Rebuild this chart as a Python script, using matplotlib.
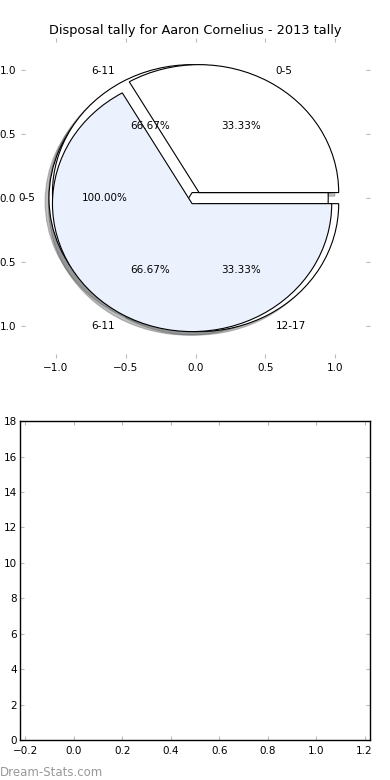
import matplotlib

matplotlib.use("Agg")
import matplotlib.pyplot as plt

# tally bins for each pie drawn onto the same axes (drawing order kept)
labels_a = ["0-5"]
values_a = [1]
labels_b = ["0-5", "6-11"]
values_b = [1, 2]
labels_c = ["6-11", "12-17"]
values_c = [2, 1]

colors_a = ["white"]
colors_b = ["white", "#EBF1FD"]
colors_c = ["white", "white"]

y_ticks = list(range(0, 19, 2))
x_ticks = [-0.2, 0.0, 0.2, 0.4, 0.6, 0.8, 1.0, 1.2]

plt.rcParams["font.size"] = 7.5
plt.rcParams["axes.unicode_minus"] = True

fig = plt.figure(figsize=(3.9, 7.8), dpi=100)
ax_pie = fig.add_axes([0.054, 0.541, 0.895, 0.410])
ax_bar = fig.add_axes([0.051, 0.0513, 0.898, 0.4087])

wedge_style = {"edgecolor": "black", "linewidth": 0.8}
shadow_style = {"ox": -0.02, "oy": -0.02, "alpha": 0.35}
for labels, values, colors in [
    (labels_a, values_a, colors_a),
    (labels_c, values_c, colors_c),
    (labels_b, values_b, colors_b),
]:
    ax_pie.pie(
        values,
        labels=labels,
        colors=colors,
        explode=[0.05] * len(values),
        autopct="%.2f%%",
        shadow=shadow_style,
        startangle=0,
        wedgeprops=wedge_style,
        frame=True,
        textprops={"fontsize": 7.5},
    )

ax_pie.set_aspect("auto")
ax_pie.set_xlim(-1.25, 1.25)
ax_pie.set_ylim(-1.25, 1.25)
ax_pie.set_xticks([-1.0, -0.5, 0.0, 0.5, 1.0])
ax_pie.set_yticks([-1.0, -0.5, 0.0, 0.5, 1.0])
ax_pie.set_yticklabels(["1.0", "0.5", "0.0", "0.5", "1.0"])
ax_pie.set_frame_on(False)
ax_pie.tick_params(direction="in", length=3, color="#bbbbbb",
                   top=True, right=True, labelsize=7.5)
ax_pie.set_title("Disposal tally for Aaron Cornelius - 2013 tally",
                 fontsize=9.3, pad=3)

ax_bar.set_xlim(-0.223, 1.223)
ax_bar.set_ylim(0, 18)
ax_bar.set_xticks(x_ticks)
ax_bar.set_yticks(y_ticks)
ax_bar.tick_params(direction="in", length=3, color="#bbbbbb",
                   top=True, right=True, labelsize=7.5)
ax_bar.tick_params(axis="x", pad=4)
ax_bar.tick_params(axis="y", pad=2)
for spine in ax_bar.spines.values():
    spine.set_linewidth(1.0)

fig.text(0.0, 0.005, "Dream-Stats.com", color="#999999", fontsize=8.5)

fig.savefig("out.png", dpi=100)
